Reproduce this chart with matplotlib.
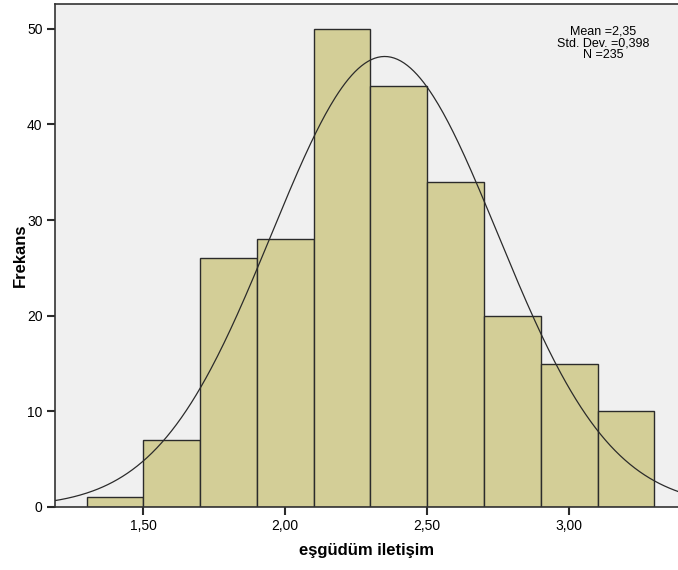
import matplotlib
matplotlib.use('Agg')
import matplotlib.pyplot as plt
import numpy as np

plt.rcParams['font.family'] = ['Liberation Sans', 'DejaVu Sans']

# histogram data (bin edges and counts)
bin_edges = [1.3, 1.5, 1.7, 1.9, 2.1, 2.3, 2.5, 2.7, 2.9, 3.1, 3.3]
counts = [1, 7, 26, 28, 50, 44, 34, 20, 15, 10]
mean = 2.35
std = 0.398
n_total = 235

xticks = [1.5, 2.0, 2.5, 3.0]
xtick_labels = ['1,50', '2,00', '2,50', '3,00']
yticks = [0, 10, 20, 30, 40, 50]

fig = plt.figure(figsize=(6.78, 5.70), dpi=100)
ax = fig.add_axes([55 / 678, 63 / 570, 623 / 678, 503 / 570])
ax.set_facecolor('#F0F0F0')

lefts = bin_edges[:-1]
widths = np.diff(bin_edges)
ax.bar(lefts, counts, width=widths, align='edge', color='#D3CE97',
       edgecolor='#2B2B2B', linewidth=1.0, zorder=2)

# normal curve scaled to counts
xs = np.linspace(1.15, 3.45, 400)
bw = bin_edges[1] - bin_edges[0]
ys = n_total * bw / (std * np.sqrt(2 * np.pi)) * np.exp(-0.5 * ((xs - mean) / std) ** 2)
ax.plot(xs, ys, color='#2B2B2B', linewidth=0.9, zorder=3)

ax.set_xlim(1.189, 3.383)
ax.set_ylim(0, 52.6)
ax.set_xticks(xticks)
ax.set_xticklabels(xtick_labels)
ax.set_yticks(yticks)
ax.tick_params(direction='out', length=6, width=1.5, color='#2B2B2B',
               labelsize=10, pad=3)

for side in ['left', 'bottom', 'top']:
    ax.spines[side].set_color('#333333')
    ax.spines[side].set_linewidth(1.2)
ax.spines['right'].set_visible(False)

ax.set_xlabel('eşgüdüm iletişim', fontsize=12, fontweight='bold', labelpad=7)
ax.set_ylabel('Frekans', fontsize=12, fontweight='bold', labelpad=-1)

ax.text(0.88, 0.957, 'Mean =2,35\nStd. Dev. =0,398\nN =235', transform=ax.transAxes,
        ha='center', va='top', fontsize=9, linespacing=0.95)

fig.savefig('out.png', dpi=100)
